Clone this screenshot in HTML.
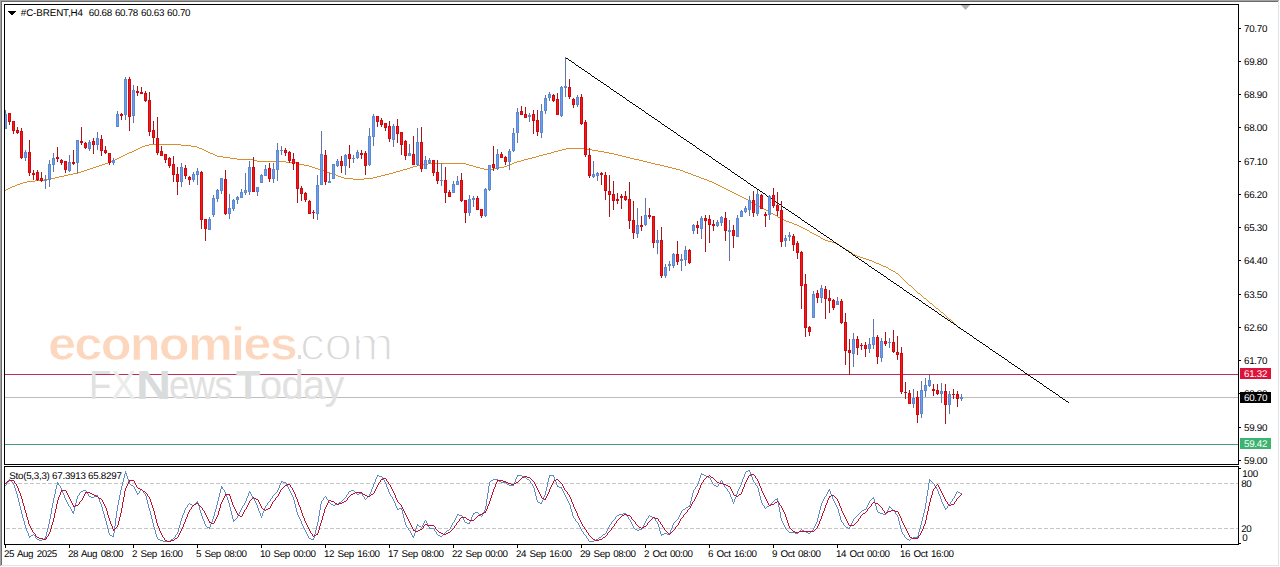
<!DOCTYPE html><html><head><meta charset="utf-8"><title>chart</title><style>html,body{margin:0;padding:0;background:#fff}
body{width:1280px;height:567px;position:relative;overflow:hidden;font-family:"Liberation Sans",sans-serif}
.t{position:absolute;white-space:nowrap;font-size:9.8px;line-height:10px;color:#000;letter-spacing:-0.27px;text-rendering:geometricPrecision}
.bx{position:absolute;left:1240px;width:31px;height:11px}
.p{left:1244px}
.w{color:#fff}
.wm1{position:absolute;left:48.3px;top:313.9px;font-size:46px;line-height:60px;font-weight:bold;color:#fcd6bd;letter-spacing:-1.65px;white-space:nowrap;-webkit-text-stroke:0.7px #fff;transform:scaleX(1.1);transform-origin:0 0}
.wm1b{position:absolute;left:300.4px;top:313.9px;font-size:46px;line-height:60px;font-weight:normal;color:#d9d9d9;letter-spacing:-0.2px;white-space:nowrap;-webkit-text-stroke:1.6px #fff;transform:scaleX(1.08);transform-origin:0 0}
.wm2{position:absolute;top:360px;font-size:40.5px;line-height:50px;color:#dedede;white-space:nowrap;letter-spacing:-0.55px}
.wm2 b{font-weight:bold}
</style></head><body><svg width="1280" height="567" viewBox="0 0 1280 567" style="position:absolute;left:0;top:0"><g shape-rendering="crispEdges"><rect x="0" y="0" width="1280" height="567" fill="#fff"/><rect x="0" y="0" width="1279" height="1" fill="#a3a3a3"/><rect x="0" y="0" width="1" height="566" fill="#a3a3a3"/><rect x="1" y="1" width="1277" height="1" fill="#6b6b6b"/><rect x="1" y="1" width="1" height="564" fill="#6b6b6b"/><rect x="1278" y="1" width="1" height="565" fill="#e3e3e3"/><rect x="1" y="565" width="1278" height="1" fill="#e3e3e3"/><rect x="5" y="374" width="1233" height="1" fill="#bd2c55"/><rect x="5" y="397" width="1233" height="1" fill="#bdbdbd"/><rect x="5" y="444" width="1233" height="1" fill="#449c7a"/></g><path shape-rendering="crispEdges" fill="#d98e30" d="M138 148h2v1h-2zM199 148h3v1h-3zM566 148h21v1h-21zM863 258h3v1h-3zM50 178h5v1h-5zM344 178h9v1h-9zM364 178h9v1h-9zM701 178h3v1h-3zM99 165h3v1h-3zM304 165h5v1h-5zM417 165h5v1h-5zM469 165h4v1h-4zM507 165h2v1h-2zM660 165h4v1h-4zM136 149h2v1h-2zM202 149h2v1h-2zM562 149h4v1h-4zM587 149h5v1h-5zM132 151h2v1h-2zM206 151h2v1h-2zM554 151h4v1h-4zM598 151h6v1h-6zM129 152h3v1h-3zM208 152h2v1h-2zM551 152h3v1h-3zM604 152h5v1h-5zM847 250h2v1h-2zM896 273h2v1h-2zM732 192h2v1h-2zM8 188h2v1h-2zM724 188h2v1h-2zM825 240h3v1h-3zM855 255h2v1h-2zM44 179h6v1h-6zM353 179h11v1h-11zM704 179h3v1h-3zM918 293h2v1h-2zM96 166h3v1h-3zM309 166h3v1h-3zM413 166h4v1h-4zM473 166h3v1h-3zM504 166h3v1h-3zM664 166h4v1h-4zM127 153h2v1h-2zM210 153h3v1h-3zM547 153h4v1h-4zM609 153h5v1h-5zM64 175h4v1h-4zM336 175h2v1h-2zM381 175h4v1h-4zM693 175h3v1h-3zM105 163h3v1h-3zM296 163h3v1h-3zM428 163h38v1h-38zM512 163h2v1h-2zM651 163h4v1h-4zM59 176h5v1h-5zM338 176h3v1h-3zM377 176h4v1h-4zM696 176h3v1h-3zM12 186h3v1h-3zM720 186h2v1h-2zM140 147h2v1h-2zM197 147h2v1h-2zM149 144h32v1h-32zM78 172h3v1h-3zM327 172h3v1h-3zM393 172h3v1h-3zM685 172h3v1h-3zM108 162h2v1h-2zM286 162h10v1h-10zM514 162h3v1h-3zM647 162h4v1h-4zM81 171h3v1h-3zM324 171h3v1h-3zM396 171h4v1h-4zM683 171h2v1h-2zM850 252h2v1h-2zM93 167h3v1h-3zM312 167h3v1h-3zM410 167h3v1h-3zM476 167h4v1h-4zM499 167h5v1h-5zM668 167h4v1h-4zM125 154h2v1h-2zM213 154h2v1h-2zM543 154h4v1h-4zM614 154h4v1h-4zM119 157h2v1h-2zM223 157h7v1h-7zM532 157h4v1h-4zM626 157h4v1h-4zM35 180h9v1h-9zM707 180h2v1h-2zM102 164h3v1h-3zM299 164h5v1h-5zM422 164h6v1h-6zM466 164h3v1h-3zM509 164h3v1h-3zM655 164h5v1h-5zM5 190h1v1h-1zM728 190h2v1h-2zM145 145h4v1h-4zM181 145h10v1h-10zM23 182h4v1h-4zM712 182h2v1h-2zM742 197h2v1h-2zM874 262h2v1h-2zM117 158h2v1h-2zM230 158h7v1h-7zM528 158h4v1h-4zM630 158h4v1h-4zM940 311h1v1h-1zM84 170h3v1h-3zM321 170h3v1h-3zM400 170h3v1h-3zM680 170h3v1h-3zM115 159h2v1h-2zM237 159h17v1h-17zM524 159h4v1h-4zM634 159h5v1h-5zM891 270h2v1h-2zM952 321h1v1h-1zM112 160h3v1h-3zM254 160h3v1h-3zM521 160h3v1h-3zM639 160h4v1h-4zM17 184h3v1h-3zM716 184h2v1h-2zM746 199h2v1h-2zM738 195h2v1h-2zM828 241h4v1h-4zM730 191h2v1h-2zM869 260h3v1h-3zM87 169h3v1h-3zM318 169h3v1h-3zM403 169h4v1h-4zM484 169h9v1h-9zM676 169h4v1h-4zM134 150h2v1h-2zM204 150h2v1h-2zM558 150h4v1h-4zM592 150h6v1h-6zM27 181h8v1h-8zM709 181h3v1h-3zM782 219h2v1h-2zM68 174h5v1h-5zM333 174h3v1h-3zM385 174h4v1h-4zM691 174h2v1h-2zM832 242h3v1h-3zM110 161h2v1h-2zM257 161h29v1h-29zM517 161h4v1h-4zM643 161h4v1h-4zM73 173h5v1h-5zM330 173h3v1h-3zM389 173h4v1h-4zM688 173h3v1h-3zM784 220h2v1h-2zM888 268h1v1h-1zM90 168h3v1h-3zM315 168h3v1h-3zM407 168h3v1h-3zM480 168h4v1h-4zM493 168h6v1h-6zM672 168h4v1h-4zM959 328h2v1h-2zM816 235h2v1h-2zM734 193h2v1h-2zM809 231h1v1h-1zM6 189h2v1h-2zM726 189h2v1h-2zM889 269h2v1h-2zM55 177h4v1h-4zM341 177h3v1h-3zM373 177h4v1h-4zM699 177h2v1h-2zM881 265h2v1h-2zM786 221h3v1h-3zM872 261h2v1h-2zM778 217h2v1h-2zM810 232h2v1h-2zM951 320h1v1h-1zM914 289h1v1h-1zM142 146h3v1h-3zM191 146h6v1h-6zM842 247h2v1h-2zM780 218h2v1h-2zM883 266h3v1h-3zM903 279h1v1h-1zM812 233h2v1h-2zM844 248h1v1h-1zM805 229h2v1h-2zM10 187h2v1h-2zM722 187h2v1h-2zM876 263h3v1h-3zM775 215h2v1h-2zM835 243h3v1h-3zM958 327h1v1h-1zM839 245h2v1h-2zM123 155h2v1h-2zM215 155h2v1h-2zM539 155h4v1h-4zM618 155h4v1h-4zM936 308h2v1h-2zM947 317h1v1h-1zM794 224h3v1h-3zM20 183h3v1h-3zM714 183h2v1h-2zM924 298h2v1h-2zM15 185h2v1h-2zM718 185h2v1h-2zM902 278h1v1h-1zM764 209h2v1h-2zM909 285h2v1h-2zM766 210h2v1h-2zM857 256h3v1h-3zM797 225h2v1h-2zM921 295h1v1h-1zM768 211h2v1h-2zM853 254h2v1h-2zM762 208h2v1h-2zM121 156h2v1h-2zM217 156h6v1h-6zM536 156h3v1h-3zM622 156h4v1h-4zM920 294h1v1h-1zM954 323h1v1h-1zM749 201h2v1h-2zM932 304h1v1h-1zM736 194h2v1h-2zM744 198h2v1h-2zM860 257h3v1h-3zM953 322h1v1h-1zM916 291h1v1h-1zM740 196h2v1h-2zM845 249h2v1h-2zM755 204h2v1h-2zM748 200h1v1h-1zM930 303h2v1h-2zM941 312h2v1h-2zM849 251h1v1h-1zM751 202h2v1h-2zM866 259h3v1h-3zM898 274h1v1h-1zM949 319h2v1h-2zM893 271h2v1h-2zM904 280h1v1h-1zM814 234h2v1h-2zM821 238h2v1h-2zM905 281h1v1h-1zM823 239h2v1h-2zM886 267h2v1h-2zM807 230h2v1h-2zM818 236h2v1h-2zM879 264h2v1h-2zM841 246h1v1h-1zM915 290h1v1h-1zM926 299h1v1h-1zM803 228h2v1h-2zM927 300h1v1h-1zM938 309h1v1h-1zM799 226h2v1h-2zM789 222h3v1h-3zM792 223h2v1h-2zM948 318h1v1h-1zM777 216h1v1h-1zM801 227h2v1h-2zM771 213h2v1h-2zM773 214h2v1h-2zM757 205h2v1h-2zM922 296h1v1h-1zM933 305h1v1h-1zM761 207h1v1h-1zM753 203h2v1h-2zM899 275h1v1h-1zM911 286h1v1h-1zM900 276h1v1h-1zM955 324h1v1h-1zM907 283h1v1h-1zM759 206h2v1h-2zM944 314h1v1h-1zM917 292h1v1h-1zM928 301h1v1h-1zM929 302h1v1h-1zM943 313h1v1h-1zM895 272h1v1h-1zM820 237h1v1h-1zM906 282h1v1h-1zM961 329h1v1h-1zM939 310h1v1h-1zM957 326h1v1h-1zM838 244h1v1h-1zM923 297h1v1h-1zM912 287h1v1h-1zM770 212h1v1h-1zM935 307h1v1h-1zM913 288h1v1h-1zM956 325h1v1h-1zM934 306h1v1h-1zM945 315h1v1h-1zM946 316h1v1h-1zM901 277h1v1h-1zM908 284h1v1h-1zM852 253h1v1h-1z"/><path shape-rendering="crispEdges" fill="#000" d="M565 57h1v1h-1zM566 58h2v1h-2zM568 59h1v1h-1zM569 60h2v1h-2zM571 61h1v1h-1zM572 62h2v1h-2zM574 63h1v1h-1zM575 64h1v1h-1zM576 65h2v1h-2zM578 66h1v1h-1zM579 67h2v1h-2zM581 68h1v1h-1zM582 69h2v1h-2zM584 70h1v1h-1zM585 71h2v1h-2zM587 72h1v1h-1zM588 73h2v1h-2zM590 74h1v1h-1zM591 75h1v1h-1zM592 76h2v1h-2zM594 77h1v1h-1zM595 78h2v1h-2zM597 79h1v1h-1zM598 80h2v1h-2zM600 81h1v1h-1zM601 82h2v1h-2zM603 83h1v1h-1zM604 84h2v1h-2zM606 85h1v1h-1zM607 86h2v1h-2zM609 87h1v1h-1zM610 88h1v1h-1zM611 89h2v1h-2zM613 90h1v1h-1zM614 91h2v1h-2zM616 92h1v1h-1zM617 93h2v1h-2zM619 94h1v1h-1zM620 95h2v1h-2zM622 96h1v1h-1zM623 97h2v1h-2zM625 98h1v1h-1zM626 99h1v1h-1zM627 100h2v1h-2zM629 101h1v1h-1zM630 102h2v1h-2zM632 103h1v1h-1zM633 104h2v1h-2zM635 105h1v1h-1zM636 106h2v1h-2zM638 107h1v1h-1zM639 108h2v1h-2zM641 109h1v1h-1zM642 110h2v1h-2zM644 111h1v1h-1zM645 112h1v1h-1zM646 113h2v1h-2zM648 114h1v1h-1zM649 115h2v1h-2zM651 116h1v1h-1zM652 117h2v1h-2zM654 118h1v1h-1zM655 119h2v1h-2zM657 120h1v1h-1zM658 121h2v1h-2zM660 122h1v1h-1zM661 123h1v1h-1zM662 124h2v1h-2zM664 125h1v1h-1zM665 126h2v1h-2zM667 127h1v1h-1zM668 128h2v1h-2zM670 129h1v1h-1zM671 130h2v1h-2zM673 131h1v1h-1zM674 132h2v1h-2zM676 133h1v1h-1zM677 134h1v1h-1zM678 135h2v1h-2zM680 136h1v1h-1zM681 137h2v1h-2zM683 138h1v1h-1zM684 139h2v1h-2zM686 140h1v1h-1zM687 141h2v1h-2zM689 142h1v1h-1zM690 143h2v1h-2zM692 144h1v1h-1zM693 145h2v1h-2zM695 146h1v1h-1zM696 147h1v1h-1zM697 148h2v1h-2zM699 149h1v1h-1zM700 150h2v1h-2zM702 151h1v1h-1zM703 152h2v1h-2zM705 153h1v1h-1zM706 154h2v1h-2zM708 155h1v1h-1zM709 156h2v1h-2zM711 157h1v1h-1zM712 158h1v1h-1zM713 159h2v1h-2zM715 160h1v1h-1zM716 161h2v1h-2zM718 162h1v1h-1zM719 163h2v1h-2zM721 164h1v1h-1zM722 165h2v1h-2zM724 166h1v1h-1zM725 167h2v1h-2zM727 168h1v1h-1zM728 169h2v1h-2zM730 170h1v1h-1zM731 171h1v1h-1zM732 172h2v1h-2zM734 173h1v1h-1zM735 174h2v1h-2zM737 175h1v1h-1zM738 176h2v1h-2zM740 177h1v1h-1zM741 178h2v1h-2zM743 179h1v1h-1zM744 180h2v1h-2zM746 181h1v1h-1zM747 182h1v1h-1zM748 183h2v1h-2zM750 184h1v1h-1zM751 185h2v1h-2zM753 186h1v1h-1zM754 187h2v1h-2zM756 188h1v1h-1zM757 189h2v1h-2zM759 190h1v1h-1zM760 191h2v1h-2zM762 192h1v1h-1zM763 193h2v1h-2zM765 194h1v1h-1zM766 195h1v1h-1zM767 196h2v1h-2zM769 197h1v1h-1zM770 198h2v1h-2zM772 199h1v1h-1zM773 200h2v1h-2zM775 201h1v1h-1zM776 202h2v1h-2zM778 203h1v1h-1zM779 204h2v1h-2zM781 205h1v1h-1zM782 206h1v1h-1zM783 207h2v1h-2zM785 208h1v1h-1zM786 209h2v1h-2zM788 210h1v1h-1zM789 211h2v1h-2zM791 212h1v1h-1zM792 213h2v1h-2zM794 214h1v1h-1zM795 215h2v1h-2zM797 216h1v1h-1zM798 217h2v1h-2zM800 218h1v1h-1zM801 219h1v1h-1zM802 220h2v1h-2zM804 221h1v1h-1zM805 222h2v1h-2zM807 223h1v1h-1zM808 224h2v1h-2zM810 225h1v1h-1zM811 226h2v1h-2zM813 227h1v1h-1zM814 228h2v1h-2zM816 229h1v1h-1zM817 230h1v1h-1zM818 231h2v1h-2zM820 232h1v1h-1zM821 233h2v1h-2zM823 234h1v1h-1zM824 235h2v1h-2zM826 236h1v1h-1zM827 237h2v1h-2zM829 238h1v1h-1zM830 239h2v1h-2zM832 240h1v1h-1zM833 241h1v1h-1zM834 242h2v1h-2zM836 243h1v1h-1zM837 244h2v1h-2zM839 245h1v1h-1zM840 246h2v1h-2zM842 247h1v1h-1zM843 248h2v1h-2zM845 249h1v1h-1zM846 250h2v1h-2zM848 251h1v1h-1zM849 252h2v1h-2zM851 253h1v1h-1zM852 254h1v1h-1zM853 255h2v1h-2zM855 256h1v1h-1zM856 257h2v1h-2zM858 258h1v1h-1zM859 259h2v1h-2zM861 260h1v1h-1zM862 261h2v1h-2zM864 262h1v1h-1zM865 263h2v1h-2zM867 264h1v1h-1zM868 265h1v1h-1zM869 266h2v1h-2zM871 267h1v1h-1zM872 268h2v1h-2zM874 269h1v1h-1zM875 270h2v1h-2zM877 271h1v1h-1zM878 272h2v1h-2zM880 273h1v1h-1zM881 274h2v1h-2zM883 275h1v1h-1zM884 276h2v1h-2zM886 277h1v1h-1zM887 278h1v1h-1zM888 279h2v1h-2zM890 280h1v1h-1zM891 281h2v1h-2zM893 282h1v1h-1zM894 283h2v1h-2zM896 284h1v1h-1zM897 285h2v1h-2zM899 286h1v1h-1zM900 287h2v1h-2zM902 288h1v1h-1zM903 289h1v1h-1zM904 290h2v1h-2zM906 291h1v1h-1zM907 292h2v1h-2zM909 293h1v1h-1zM910 294h2v1h-2zM912 295h1v1h-1zM913 296h2v1h-2zM915 297h1v1h-1zM916 298h2v1h-2zM918 299h1v1h-1zM919 300h2v1h-2zM921 301h1v1h-1zM922 302h1v1h-1zM923 303h2v1h-2zM925 304h1v1h-1zM926 305h2v1h-2zM928 306h1v1h-1zM929 307h2v1h-2zM931 308h1v1h-1zM932 309h2v1h-2zM934 310h1v1h-1zM935 311h2v1h-2zM937 312h1v1h-1zM938 313h1v1h-1zM939 314h2v1h-2zM941 315h1v1h-1zM942 316h2v1h-2zM944 317h1v1h-1zM945 318h2v1h-2zM947 319h1v1h-1zM948 320h2v1h-2zM950 321h1v1h-1zM951 322h2v1h-2zM953 323h1v1h-1zM954 324h2v1h-2zM956 325h1v1h-1zM957 326h1v1h-1zM958 327h2v1h-2zM960 328h1v1h-1zM961 329h2v1h-2zM963 330h1v1h-1zM964 331h2v1h-2zM966 332h1v1h-1zM967 333h2v1h-2zM969 334h1v1h-1zM970 335h2v1h-2zM972 336h1v1h-1zM973 337h1v1h-1zM974 338h2v1h-2zM976 339h1v1h-1zM977 340h2v1h-2zM979 341h1v1h-1zM980 342h2v1h-2zM982 343h1v1h-1zM983 344h2v1h-2zM985 345h1v1h-1zM986 346h2v1h-2zM988 347h1v1h-1zM989 348h1v1h-1zM990 349h2v1h-2zM992 350h1v1h-1zM993 351h2v1h-2zM995 352h1v1h-1zM996 353h2v1h-2zM998 354h1v1h-1zM999 355h2v1h-2zM1001 356h1v1h-1zM1002 357h2v1h-2zM1004 358h1v1h-1zM1005 359h2v1h-2zM1007 360h1v1h-1zM1008 361h1v1h-1zM1009 362h2v1h-2zM1011 363h1v1h-1zM1012 364h2v1h-2zM1014 365h1v1h-1zM1015 366h2v1h-2zM1017 367h1v1h-1zM1018 368h2v1h-2zM1020 369h1v1h-1zM1021 370h2v1h-2zM1023 371h1v1h-1zM1024 372h1v1h-1zM1025 373h2v1h-2zM1027 374h1v1h-1zM1028 375h2v1h-2zM1030 376h1v1h-1zM1031 377h2v1h-2zM1033 378h1v1h-1zM1034 379h2v1h-2zM1036 380h1v1h-1zM1037 381h2v1h-2zM1039 382h1v1h-1zM1040 383h2v1h-2zM1042 384h1v1h-1zM1043 385h1v1h-1zM1044 386h2v1h-2zM1046 387h1v1h-1zM1047 388h2v1h-2zM1049 389h1v1h-1zM1050 390h2v1h-2zM1052 391h1v1h-1zM1053 392h2v1h-2zM1055 393h1v1h-1zM1056 394h2v1h-2zM1058 395h1v1h-1zM1059 396h1v1h-1zM1060 397h2v1h-2zM1062 398h1v1h-1zM1063 399h2v1h-2zM1065 400h1v1h-1zM1066 401h2v1h-2zM1068 402h1v1h-1z"/><g shape-rendering="crispEdges"><path d="M5 110h1V129h-1zM25 150h1V161h-1zM45 175h1V189h-1zM49 160h1V187h-1zM53 153h1V172h-1zM69 155h1V172h-1zM77 140h1V173h-1zM89 140h1V151h-1zM97 132h1V150h-1zM113 158h1V165h-1zM117 111h1V127h-1zM125 77h1V120h-1zM133 85h1V123h-1zM181 163h1V187h-1zM193 172h1V182h-1zM197 168h1V185h-1zM209 217h1V230h-1zM213 195h1V217h-1zM217 189h1V202h-1zM221 178h1V194h-1zM229 194h1V219h-1zM233 199h1V211h-1zM237 196h1V204h-1zM241 189h1V198h-1zM245 173h1V195h-1zM249 161h1V195h-1zM257 187h1V196h-1zM261 174h1V183h-1zM265 165h1V176h-1zM273 163h1V183h-1zM277 143h1V181h-1zM281 146h1V155h-1zM317 175h1V220h-1zM321 131h1V185h-1zM329 173h1V183h-1zM333 164h1V179h-1zM337 159h1V167h-1zM345 154h1V175h-1zM353 155h1V163h-1zM357 150h1V159h-1zM369 128h1V166h-1zM373 114h1V146h-1zM393 124h1V147h-1zM409 144h1V156h-1zM417 128h1V166h-1zM425 156h1V169h-1zM429 158h1V164h-1zM441 163h1V186h-1zM453 181h1V193h-1zM457 176h1V185h-1zM469 195h1V216h-1zM473 196h1V207h-1zM485 188h1V217h-1zM489 165h1V191h-1zM497 149h1V170h-1zM509 149h1V170h-1zM513 128h1V152h-1zM517 108h1V143h-1zM529 113h1V122h-1zM541 104h1V138h-1zM545 95h1V114h-1zM549 92h1V101h-1zM561 86h1V117h-1zM565 57h1V97h-1zM577 95h1V107h-1zM593 161h1V178h-1zM597 172h1V181h-1zM637 208h1V238h-1zM645 198h1V226h-1zM657 230h1V254h-1zM665 264h1V278h-1zM669 261h1V271h-1zM673 253h1V268h-1zM681 254h1V271h-1zM685 246h1V266h-1zM693 224h1V234h-1zM701 216h1V239h-1zM717 220h1V227h-1zM721 216h1V226h-1zM729 220h1V261h-1zM737 215h1V237h-1zM741 210h1V217h-1zM745 206h1V213h-1zM749 196h1V216h-1zM757 190h1V216h-1zM769 195h1V220h-1zM785 235h1V247h-1zM789 232h1V241h-1zM813 291h1V318h-1zM821 285h1V303h-1zM837 297h1V305h-1zM853 333h1V367h-1zM869 338h1V353h-1zM873 319h1V349h-1zM881 338h1V362h-1zM889 338h1V348h-1zM913 389h1V408h-1zM921 381h1V418h-1zM925 378h1V397h-1zM929 375h1V387h-1zM941 383h1V403h-1zM949 391h1V414h-1zM961 394h1V401h-1z" fill="#6074a8"/><path d="M9 113h1V125h-1zM13 121h1V134h-1zM17 127h1V134h-1zM21 128h1V159h-1zM29 140h1V176h-1zM33 170h1V180h-1zM37 170h1V181h-1zM41 172h1V182h-1zM57 147h1V162h-1zM61 159h1V165h-1zM65 161h1V173h-1zM73 150h1V165h-1zM81 127h1V145h-1zM85 142h1V149h-1zM93 138h1V154h-1zM101 135h1V156h-1zM105 146h1V154h-1zM109 153h1V165h-1zM121 113h1V120h-1zM129 77h1V131h-1zM137 86h1V96h-1zM141 87h1V94h-1zM145 91h1V102h-1zM149 92h1V136h-1zM153 121h1V144h-1zM157 117h1V155h-1zM161 146h1V156h-1zM165 154h1V163h-1zM169 157h1V168h-1zM173 156h1V182h-1zM177 167h1V195h-1zM185 165h1V179h-1zM189 176h1V185h-1zM201 171h1V229h-1zM205 219h1V241h-1zM225 170h1V215h-1zM253 157h1V192h-1zM269 163h1V182h-1zM285 148h1V156h-1zM289 151h1V163h-1zM293 153h1V170h-1zM297 162h1V203h-1zM301 186h1V201h-1zM305 192h1V202h-1zM309 200h1V214h-1zM313 210h1V219h-1zM325 150h1V185h-1zM341 156h1V173h-1zM349 145h1V168h-1zM361 150h1V159h-1zM365 151h1V175h-1zM377 116h1V127h-1zM381 118h1V127h-1zM385 123h1V131h-1zM389 121h1V142h-1zM397 119h1V143h-1zM401 132h1V155h-1zM405 140h1V160h-1zM413 136h1V165h-1zM421 127h1V172h-1zM433 160h1V176h-1zM437 160h1V184h-1zM445 167h1V203h-1zM449 190h1V197h-1zM461 173h1V202h-1zM465 200h1V223h-1zM477 196h1V210h-1zM481 209h1V218h-1zM493 146h1V171h-1zM501 152h1V158h-1zM505 156h1V165h-1zM521 106h1V115h-1zM525 107h1V118h-1zM533 110h1V134h-1zM537 110h1V136h-1zM553 94h1V102h-1zM557 93h1V115h-1zM569 79h1V99h-1zM573 98h1V108h-1zM581 94h1V125h-1zM585 120h1V157h-1zM589 148h1V178h-1zM601 172h1V185h-1zM605 172h1V200h-1zM609 175h1V217h-1zM613 181h1V210h-1zM617 193h1V204h-1zM621 194h1V209h-1zM625 191h1V201h-1zM629 182h1V229h-1zM633 201h1V239h-1zM641 216h1V231h-1zM649 208h1V219h-1zM653 216h1V248h-1zM661 227h1V278h-1zM677 241h1V265h-1zM689 249h1V264h-1zM697 221h1V234h-1zM705 215h1V252h-1zM709 215h1V243h-1zM713 220h1V231h-1zM725 212h1V241h-1zM733 225h1V248h-1zM753 191h1V217h-1zM761 194h1V209h-1zM765 212h1V227h-1zM773 188h1V208h-1zM777 192h1V216h-1zM781 201h1V247h-1zM793 234h1V251h-1zM797 241h1V259h-1zM801 251h1V309h-1zM805 274h1V337h-1zM809 326h1V336h-1zM817 290h1V303h-1zM825 286h1V319h-1zM829 290h1V313h-1zM833 299h1V310h-1zM841 299h1V324h-1zM845 313h1V365h-1zM849 339h1V375h-1zM857 336h1V355h-1zM861 343h1V350h-1zM865 342h1V357h-1zM877 335h1V364h-1zM885 332h1V346h-1zM893 330h1V353h-1zM897 336h1V360h-1zM901 347h1V394h-1zM905 382h1V399h-1zM909 390h1V404h-1zM917 391h1V423h-1zM933 384h1V396h-1zM937 384h1V395h-1zM945 384h1V424h-1zM953 389h1V399h-1zM957 391h1V407h-1z" fill="#a8151b"/><path d="M5 114h2V129h-2zM24 152h3V158h-3zM44 180h3V181h-3zM48 164h3V180h-3zM52 158h3V165h-3zM68 162h3V171h-3zM76 140h3V163h-3zM88 142h3V149h-3zM96 138h3V145h-3zM112 160h3V163h-3zM116 114h3V127h-3zM124 79h3V115h-3zM132 90h3V116h-3zM180 167h3V182h-3zM192 174h3V180h-3zM196 171h3V175h-3zM208 219h3V230h-3zM212 198h3V215h-3zM216 190h3V199h-3zM220 178h3V191h-3zM228 208h3V214h-3zM232 200h3V209h-3zM236 197h3V200h-3zM240 192h3V198h-3zM244 190h3V193h-3zM248 167h3V192h-3zM256 187h3V192h-3zM260 175h3V183h-3zM264 169h3V176h-3zM272 169h3V179h-3zM276 150h3V170h-3zM280 150h3V151h-3zM316 185h3V214h-3zM320 154h3V185h-3zM328 181h3V183h-3zM332 164h3V179h-3zM336 161h3V166h-3zM344 155h3V166h-3zM352 158h3V159h-3zM356 152h3V158h-3zM368 136h3V165h-3zM372 116h3V137h-3zM392 126h3V140h-3zM408 153h3V156h-3zM416 142h3V165h-3zM424 160h3V169h-3zM428 160h3V163h-3zM440 180h3V181h-3zM452 184h3V193h-3zM456 181h3V185h-3zM468 199h3V213h-3zM472 198h3V200h-3zM484 189h3V216h-3zM488 165h3V190h-3zM496 154h3V169h-3zM508 151h3V162h-3zM512 133h3V151h-3zM516 112h3V133h-3zM528 115h3V117h-3zM540 111h3V133h-3zM544 98h3V111h-3zM548 94h3V98h-3zM560 87h3V116h-3zM564 86h3V88h-3zM576 97h3V105h-3zM592 174h3V177h-3zM596 173h3V176h-3zM636 225h3V234h-3zM644 215h3V225h-3zM656 240h3V243h-3zM664 267h3V276h-3zM668 264h3V266h-3zM672 254h3V266h-3zM680 259h3V261h-3zM684 250h3V260h-3zM692 225h3V231h-3zM700 218h3V229h-3zM716 222h3V226h-3zM720 217h3V223h-3zM728 230h3V232h-3zM736 218h3V237h-3zM740 211h3V217h-3zM744 208h3V212h-3zM748 200h3V210h-3zM756 194h3V214h-3zM768 196h3V215h-3zM784 238h3V241h-3zM788 235h3V237h-3zM812 294h3V318h-3zM820 288h3V298h-3zM836 301h3V305h-3zM852 339h3V354h-3zM868 344h3V349h-3zM872 337h3V345h-3zM880 341h3V358h-3zM888 342h3V343h-3zM912 398h3V404h-3zM920 390h3V414h-3zM924 385h3V391h-3zM928 380h3V386h-3zM940 391h3V394h-3zM948 394h3V405h-3zM960 397h3V399h-3z" fill="#5b89d6"/><path d="M8 113h3V122h-3zM12 121h3V131h-3zM16 130h3V133h-3zM20 131h3V158h-3zM28 152h3V173h-3zM32 173h3V175h-3zM36 172h3V180h-3zM40 178h3V181h-3zM56 157h3V159h-3zM60 160h3V163h-3zM64 161h3V170h-3zM72 162h3V164h-3zM80 141h3V143h-3zM84 143h3V148h-3zM92 141h3V145h-3zM100 139h3V151h-3zM104 150h3V153h-3zM108 153h3V163h-3zM120 114h3V116h-3zM128 79h3V117h-3zM136 91h3V93h-3zM140 92h3V94h-3zM144 93h3V101h-3zM148 100h3V132h-3zM152 130h3V138h-3zM156 138h3V153h-3zM160 151h3V156h-3zM164 154h3V160h-3zM168 158h3V166h-3zM172 164h3V175h-3zM176 174h3V182h-3zM184 168h3V176h-3zM188 177h3V180h-3zM200 172h3V220h-3zM204 219h3V229h-3zM224 179h3V214h-3zM252 167h3V192h-3zM268 168h3V179h-3zM284 150h3V153h-3zM288 152h3V161h-3zM292 159h3V164h-3zM296 162h3V189h-3zM300 188h3V194h-3zM304 193h3V200h-3zM308 201h3V214h-3zM312 212h3V213h-3zM324 155h3V182h-3zM340 161h3V166h-3zM348 154h3V159h-3zM360 153h3V155h-3zM364 153h3V166h-3zM376 116h3V122h-3zM380 120h3V125h-3zM384 123h3V128h-3zM388 126h3V139h-3zM396 126h3V134h-3zM400 132h3V145h-3zM404 141h3V156h-3zM412 154h3V165h-3zM420 142h3V169h-3zM432 160h3V173h-3zM436 172h3V181h-3zM444 180h3V193h-3zM448 192h3V197h-3zM460 180h3V201h-3zM464 200h3V213h-3zM476 198h3V210h-3zM480 209h3V216h-3zM492 164h3V168h-3zM500 154h3V158h-3zM504 157h3V162h-3zM520 111h3V115h-3zM524 114h3V118h-3zM532 114h3V121h-3zM536 120h3V132h-3zM552 95h3V101h-3zM556 99h3V115h-3zM568 87h3V97h-3zM572 99h3V105h-3zM580 97h3V124h-3zM584 122h3V155h-3zM588 155h3V176h-3zM600 173h3V175h-3zM604 175h3V191h-3zM608 191h3V195h-3zM612 194h3V201h-3zM616 199h3V201h-3zM620 196h3V198h-3zM624 196h3V200h-3zM628 199h3V221h-3zM632 220h3V233h-3zM640 225h3V227h-3zM648 215h3V217h-3zM652 216h3V243h-3zM660 240h3V276h-3zM676 254h3V262h-3zM688 250h3V263h-3zM696 225h3V228h-3zM704 218h3V221h-3zM708 219h3V225h-3zM712 224h3V226h-3zM724 218h3V231h-3zM732 230h3V236h-3zM752 200h3V213h-3zM760 195h3V209h-3zM764 214h3V216h-3zM772 195h3V206h-3zM776 205h3V211h-3zM780 210h3V242h-3zM792 236h3V245h-3zM796 243h3V253h-3zM800 252h3V286h-3zM804 284h3V328h-3zM808 327h3V332h-3zM816 293h3V298h-3zM824 289h3V299h-3zM828 298h3V301h-3zM832 300h3V308h-3zM840 301h3V323h-3zM844 322h3V351h-3zM848 350h3V353h-3zM856 339h3V348h-3zM860 345h3V346h-3zM864 345h3V349h-3zM876 337h3V357h-3zM884 341h3V344h-3zM892 342h3V352h-3zM896 352h3V355h-3zM900 353h3V392h-3zM904 392h3V393h-3zM908 393h3V404h-3zM916 397h3V415h-3zM932 389h3V391h-3zM936 390h3V394h-3zM944 391h3V405h-3zM952 394h3V395h-3zM956 394h3V399h-3z" fill="#d2080e"/><path d="M5 115h1V128h-1zM25 153h1V157h-1zM49 165h1V179h-1zM53 159h1V164h-1zM69 163h1V170h-1zM77 141h1V162h-1zM89 143h1V148h-1zM97 139h1V144h-1zM113 161h1V162h-1zM117 115h1V126h-1zM125 80h1V114h-1zM133 91h1V115h-1zM181 168h1V181h-1zM193 175h1V179h-1zM197 172h1V174h-1zM209 220h1V229h-1zM213 199h1V214h-1zM217 191h1V198h-1zM221 179h1V190h-1zM229 209h1V213h-1zM233 201h1V208h-1zM237 198h1V199h-1zM241 193h1V197h-1zM245 191h1V192h-1zM249 168h1V191h-1zM257 188h1V191h-1zM261 176h1V182h-1zM265 170h1V175h-1zM273 170h1V178h-1zM277 151h1V169h-1zM317 186h1V213h-1zM321 155h1V184h-1zM333 165h1V178h-1zM337 162h1V165h-1zM345 156h1V165h-1zM357 153h1V157h-1zM369 137h1V164h-1zM373 117h1V136h-1zM393 127h1V139h-1zM409 154h1V155h-1zM417 143h1V164h-1zM425 161h1V168h-1zM429 161h1V162h-1zM453 185h1V192h-1zM457 182h1V184h-1zM469 200h1V212h-1zM485 190h1V215h-1zM489 166h1V189h-1zM497 155h1V168h-1zM509 152h1V161h-1zM513 134h1V150h-1zM517 113h1V132h-1zM541 112h1V132h-1zM545 99h1V110h-1zM549 95h1V97h-1zM561 88h1V115h-1zM577 98h1V104h-1zM593 175h1V176h-1zM597 174h1V175h-1zM637 226h1V233h-1zM645 216h1V224h-1zM657 241h1V242h-1zM665 268h1V275h-1zM673 255h1V265h-1zM685 251h1V259h-1zM693 226h1V230h-1zM701 219h1V228h-1zM717 223h1V225h-1zM721 218h1V222h-1zM737 219h1V236h-1zM741 212h1V216h-1zM745 209h1V211h-1zM749 201h1V209h-1zM757 195h1V213h-1zM769 197h1V214h-1zM785 239h1V240h-1zM813 295h1V317h-1zM821 289h1V297h-1zM837 302h1V304h-1zM853 340h1V353h-1zM869 345h1V348h-1zM873 338h1V344h-1zM881 342h1V357h-1zM913 399h1V403h-1zM921 391h1V413h-1zM925 386h1V390h-1zM929 381h1V385h-1zM941 392h1V393h-1zM949 395h1V404h-1z" fill="#6e9eec"/><path d="M9 114h1V121h-1zM13 122h1V130h-1zM17 131h1V132h-1zM21 132h1V157h-1zM29 153h1V172h-1zM37 173h1V179h-1zM41 179h1V180h-1zM61 161h1V162h-1zM65 162h1V169h-1zM85 144h1V147h-1zM93 142h1V144h-1zM101 140h1V150h-1zM105 151h1V152h-1zM109 154h1V162h-1zM129 80h1V116h-1zM145 94h1V100h-1zM149 101h1V131h-1zM153 131h1V137h-1zM157 139h1V152h-1zM161 152h1V155h-1zM165 155h1V159h-1zM169 159h1V165h-1zM173 165h1V174h-1zM177 175h1V181h-1zM185 169h1V175h-1zM189 178h1V179h-1zM201 173h1V219h-1zM205 220h1V228h-1zM225 180h1V213h-1zM253 168h1V191h-1zM269 169h1V178h-1zM285 151h1V152h-1zM289 153h1V160h-1zM293 160h1V163h-1zM297 163h1V188h-1zM301 189h1V193h-1zM305 194h1V199h-1zM309 202h1V213h-1zM325 156h1V181h-1zM341 162h1V165h-1zM349 155h1V158h-1zM365 154h1V165h-1zM377 117h1V121h-1zM381 121h1V124h-1zM385 124h1V127h-1zM389 127h1V138h-1zM397 127h1V133h-1zM401 133h1V144h-1zM405 142h1V155h-1zM413 155h1V164h-1zM421 143h1V168h-1zM433 161h1V172h-1zM437 173h1V180h-1zM445 181h1V192h-1zM449 193h1V196h-1zM461 181h1V200h-1zM465 201h1V212h-1zM477 199h1V209h-1zM481 210h1V215h-1zM493 165h1V167h-1zM501 155h1V157h-1zM505 158h1V161h-1zM521 112h1V114h-1zM525 115h1V117h-1zM533 115h1V120h-1zM537 121h1V131h-1zM553 96h1V100h-1zM557 100h1V114h-1zM569 88h1V96h-1zM573 100h1V104h-1zM581 98h1V123h-1zM585 123h1V154h-1zM589 156h1V175h-1zM605 176h1V190h-1zM609 192h1V194h-1zM613 195h1V200h-1zM625 197h1V199h-1zM629 200h1V220h-1zM633 221h1V232h-1zM653 217h1V242h-1zM661 241h1V275h-1zM677 255h1V261h-1zM689 251h1V262h-1zM697 226h1V227h-1zM705 219h1V220h-1zM709 220h1V224h-1zM725 219h1V230h-1zM733 231h1V235h-1zM753 201h1V212h-1zM761 196h1V208h-1zM773 196h1V205h-1zM777 206h1V210h-1zM781 211h1V241h-1zM793 237h1V244h-1zM797 244h1V252h-1zM801 253h1V285h-1zM805 285h1V327h-1zM809 328h1V331h-1zM817 294h1V297h-1zM825 290h1V298h-1zM829 299h1V300h-1zM833 301h1V307h-1zM841 302h1V322h-1zM845 323h1V350h-1zM849 351h1V352h-1zM857 340h1V347h-1zM865 346h1V348h-1zM877 338h1V356h-1zM885 342h1V343h-1zM893 343h1V351h-1zM897 353h1V354h-1zM901 354h1V391h-1zM909 394h1V403h-1zM917 398h1V414h-1zM937 391h1V393h-1zM945 392h1V404h-1zM957 395h1V398h-1z" fill="#f41a1a"/></g><path d="M961 5h9l-4.5 5z" fill="#b0b0b0"/><g shape-rendering="crispEdges"><g stroke="#c6c6c6" stroke-width="1" stroke-dasharray="4 2" stroke-dashoffset="5"><line x1="5" y1="483.5" x2="1238" y2="483.5"/><line x1="5" y1="528.5" x2="1238" y2="528.5"/></g></g><path shape-rendering="crispEdges" fill="#5f8cc4" d="M119 495h1v5h-1zM279 485h1v3h-1zM563 491h1v2h-1zM673 523h1v2h-1zM897 515h1v2h-1zM320 504h1v6h-1zM532 484h1v2h-1zM278 488h1v2h-1zM426 521h1v2h-1zM928 483h1v7h-1zM259 511h1v2h-1zM50 514h1v5h-1zM187 505h1v2h-1zM533 486h1v2h-1zM742 479h1v3h-1zM62 490h1v3h-1zM544 495h1v2h-1zM836 505h1v2h-1zM103 511h1v3h-1zM900 525h1v4h-1zM954 496h1v2h-1zM224 490h1v2h-1zM286 483h1v2h-1zM23 518h1v3h-1zM213 516h1v3h-1zM536 496h1v4h-1zM570 505h1v4h-1zM631 522h1v2h-1zM750 472h1v3h-1zM244 503h1v2h-1zM924 509h1v4h-1zM918 532h1v4h-1zM403 514h1v4h-1zM513 484h1v2h-1zM26 528h1v3h-1zM113 533h1v4h-1zM123 478h1v4h-1zM646 519h1v2h-1zM939 494h1v2h-1zM122 482h1v4h-1zM573 516h1v2h-1zM556 482h1v3h-1zM228 500h1v3h-1zM867 505h1v2h-1zM388 489h1v3h-1zM428 525h1v2h-1zM293 497h1v3h-1zM406 525h1v2h-1zM20 506h1v4h-1zM429 527h1v2h-1zM240 510h1v2h-1zM296 508h1v4h-1zM369 494h1v2h-1zM118 500h1v5h-1zM22 514h1v4h-1zM16 491h1v3h-1zM45 536h1v3h-1zM642 527h1v2h-1zM410 531h1v2h-1zM319 510h1v6h-1zM151 515h1v4h-1zM18 498h1v4h-1zM730 494h1v3h-1zM152 519h1v4h-1zM919 529h1v3h-1zM19 502h1v4h-1zM220 489h1v4h-1zM828 490h1v2h-1zM137 493h1v2h-1zM889 506h1v2h-1zM680 513h1v2h-1zM471 517h1v3h-1zM155 530h1v4h-1zM303 526h1v2h-1zM377 475h1v2h-1zM201 513h1v3h-1zM314 534h1v4h-1zM53 498h1v5h-1zM672 525h1v3h-1zM178 528h1v4h-1zM816 522h1v2h-1zM106 521h1v4h-1zM482 514h1v2h-1zM88 494h1v2h-1zM76 499h1v4h-1zM277 490h1v2h-1zM760 496h1v4h-1zM779 507h1v5h-1zM548 478h1v4h-1zM927 490h1v6h-1zM486 499h1v7h-1zM250 492h1v2h-1zM874 499h1v4h-1zM581 529h1v2h-1zM49 519h1v5h-1zM413 536h1v2h-1zM741 482h1v3h-1zM824 497h1v2h-1zM877 510h1v2h-1zM48 524h1v4h-1zM417 524h1v2h-1zM691 497h1v4h-1zM456 516h1v2h-1zM923 513h1v4h-1zM323 498h1v2h-1zM147 500h1v4h-1zM221 486h1v3h-1zM922 517h1v4h-1zM108 529h1v4h-1zM211 522h1v2h-1zM246 498h1v3h-1zM57 482h1v3h-1zM121 486h1v4h-1zM215 509h1v3h-1zM181 518h1v3h-1zM258 508h1v3h-1zM832 496h1v3h-1zM61 488h1v2h-1zM699 478h1v3h-1zM722 481h1v2h-1zM869 501h1v2h-1zM543 497h1v3h-1zM102 507h1v4h-1zM535 492h1v4h-1zM626 514h1v2h-1zM899 521h1v4h-1zM436 532h1v2h-1zM942 502h1v2h-1zM52 503h1v5h-1zM242 506h1v2h-1zM105 518h1v3h-1zM547 482h1v5h-1zM126 473h1v3h-1zM839 513h1v3h-1zM630 520h1v2h-1zM25 525h1v3h-1zM265 506h1v2h-1zM926 496h1v7h-1zM231 511h1v4h-1zM318 516h1v6h-1zM98 497h1v2h-1zM212 519h1v3h-1zM695 487h1v2h-1zM895 512h1v2h-1zM778 501h1v6h-1zM938 491h1v3h-1zM47 528h1v4h-1zM376 477h1v2h-1zM227 497h1v3h-1zM63 493h1v2h-1zM405 522h1v3h-1zM216 505h1v4h-1zM917 536h1v2h-1zM888 508h1v2h-1zM606 531h1v2h-1zM679 515h1v2h-1zM835 503h1v2h-1zM260 513h1v3h-1zM645 521h1v2h-1zM29 536h1v2h-1zM75 503h1v4h-1zM921 521h1v4h-1zM295 504h1v4h-1zM177 532h1v2h-1zM819 510h1v4h-1zM815 524h1v2h-1zM485 506h1v4h-1zM473 513h1v2h-1zM120 490h1v5h-1zM117 505h1v6h-1zM736 494h1v3h-1zM517 475h1v2h-1zM945 508h1v2h-1zM632 524h1v2h-1zM718 484h1v2h-1zM153 523h1v4h-1zM455 518h1v2h-1zM569 503h1v2h-1zM729 492h1v2h-1zM749 470h1v2h-1zM416 526h1v3h-1zM572 512h1v4h-1zM299 517h1v2h-1zM154 527h1v3h-1zM554 477h1v3h-1zM386 484h1v3h-1zM575 519h1v2h-1zM21 510h1v4h-1zM555 480h1v2h-1zM313 538h1v2h-1zM387 487h1v2h-1zM427 523h1v2h-1zM219 493h1v4h-1zM210 524h1v3h-1zM180 521h1v4h-1zM408 528h1v2h-1zM873 497h1v2h-1zM470 520h1v2h-1zM56 485h1v4h-1zM157 537h1v2h-1zM462 516h1v2h-1zM451 525h1v2h-1zM698 481h1v3h-1zM671 528h1v2h-1zM751 475h1v2h-1zM876 506h1v4h-1zM542 500h1v2h-1zM397 508h1v2h-1zM762 503h1v2h-1zM272 496h1v2h-1zM752 477h1v3h-1zM185 508h1v2h-1zM135 489h1v2h-1zM241 508h1v2h-1zM116 511h1v7h-1zM690 501h1v4h-1zM136 491h1v2h-1zM785 527h1v2h-1zM831 494h1v2h-1zM200 510h1v3h-1zM150 511h1v4h-1zM17 494h1v4h-1zM245 501h1v2h-1zM925 503h1v6h-1zM579 525h1v2h-1zM759 492h1v4h-1zM814 526h1v2h-1zM214 512h1v4h-1zM6 483h1v2h-1zM124 474h1v4h-1zM658 524h1v3h-1zM104 514h1v4h-1zM583 532h1v2h-1zM115 518h1v8h-1zM868 503h1v2h-1zM199 506h1v4h-1zM838 509h1v4h-1zM659 527h1v4h-1zM537 500h1v2h-1zM902 532h1v2h-1zM51 508h1v6h-1zM139 491h1v2h-1zM549 475h1v3h-1zM546 487h1v4h-1zM609 525h1v2h-1zM934 484h1v2h-1zM107 525h1v4h-1zM937 489h1v2h-1zM833 499h1v2h-1zM35 536h1v2h-1zM404 518h1v4h-1zM264 508h1v3h-1zM841 520h1v2h-1zM434 529h1v2h-1zM489 482h1v4h-1zM229 503h1v4h-1zM175 535h1v2h-1zM375 479h1v3h-1zM257 505h1v3h-1zM127 476h1v3h-1zM944 506h1v2h-1zM230 507h1v4h-1zM840 516h1v4h-1zM887 510h1v2h-1zM534 488h1v4h-1zM678 517h1v2h-1zM472 515h1v2h-1zM568 501h1v2h-1zM920 525h1v4h-1zM818 514h1v4h-1zM901 529h1v3h-1zM586 536h1v2h-1zM904 535h1v2h-1zM55 489h1v5h-1zM739 487h1v2h-1zM24 521h1v4h-1zM184 510h1v3h-1zM382 477h1v2h-1zM226 494h1v3h-1zM385 482h1v2h-1zM693 490h1v3h-1zM415 529h1v4h-1zM943 504h1v2h-1zM156 534h1v3h-1zM727 489h1v2h-1zM852 521h1v2h-1zM134 487h1v2h-1zM316 526h1v4h-1zM217 501h1v4h-1zM362 494h1v2h-1zM300 519h1v2h-1zM488 486h1v7h-1zM697 484h1v2h-1zM701 473h1v2h-1zM929 479h1v4h-1zM301 521h1v3h-1zM712 482h1v2h-1zM249 491h1v2h-1zM783 523h1v2h-1zM541 502h1v2h-1zM553 475h1v2h-1zM73 511h1v3h-1zM608 527h1v2h-1zM263 511h1v2h-1zM114 526h1v7h-1zM149 508h1v3h-1zM464 520h1v2h-1zM578 523h1v2h-1zM947 506h1v2h-1zM205 524h1v2h-1zM308 536h1v2h-1zM395 503h1v3h-1zM374 482h1v2h-1zM780 512h1v6h-1zM764 506h1v2h-1zM720 481h1v2h-1zM875 503h1v3h-1zM198 503h1v3h-1zM813 528h1v2h-1zM886 512h1v2h-1zM396 506h1v2h-1zM761 500h1v3h-1zM54 494h1v4h-1zM734 499h1v3h-1zM738 489h1v2h-1zM252 496h1v2h-1zM821 503h1v3h-1zM487 493h1v6h-1zM515 479h1v3h-1zM830 491h1v3h-1zM661 534h1v2h-1zM100 502h1v2h-1zM46 532h1v4h-1zM657 522h1v2h-1zM315 530h1v4h-1zM936 487h1v2h-1zM225 492h1v2h-1zM843 523h1v2h-1zM58 483h1v2h-1zM77 496h1v3h-1zM183 513h1v2h-1zM866 507h1v2h-1zM270 499h1v2h-1zM262 513h1v3h-1zM239 512h1v2h-1zM346 495h1v2h-1zM566 497h1v2h-1zM692 493h1v4h-1zM567 499h1v2h-1zM65 498h1v2h-1zM588 539h1v2h-1zM402 510h1v4h-1zM851 523h1v2h-1zM68 504h1v2h-1zM384 480h1v2h-1zM611 522h1v2h-1zM289 489h1v2h-1zM753 480h1v2h-1zM700 475h1v3h-1zM514 482h1v2h-1zM607 529h1v2h-1zM710 478h1v2h-1zM392 497h1v2h-1zM71 509h1v2h-1zM281 481h1v2h-1zM364 497h1v2h-1zM373 484h1v3h-1zM251 494h1v2h-1zM292 495h1v2h-1zM782 521h1v2h-1zM660 531h1v3h-1zM733 502h1v2h-1zM148 504h1v4h-1zM737 491h1v3h-1zM820 506h1v4h-1zM15 488h1v3h-1zM306 532h1v2h-1zM204 521h1v3h-1zM394 501h1v2h-1zM648 516h1v2h-1zM371 489h1v3h-1zM745 472h1v2h-1zM254 499h1v2h-1zM850 525h1v2h-1zM247 496h1v2h-1zM101 504h1v3h-1zM125 471h1v3h-1zM644 523h1v2h-1zM562 489h1v2h-1zM8 480h1v2h-1zM565 495h1v2h-1zM238 514h1v2h-1zM326 497h1v2h-1zM128 479h1v3h-1zM261 516h1v2h-1zM516 477h1v2h-1zM64 495h1v3h-1zM288 487h1v2h-1zM454 520h1v2h-1zM129 482h1v2h-1zM372 487h1v2h-1zM633 526h1v2h-1zM28 533h1v3h-1zM469 522h1v2h-1zM941 499h1v3h-1zM450 527h1v2h-1zM670 530h1v3h-1zM390 494h1v2h-1zM401 508h1v2h-1zM67 502h1v2h-1zM70 507h1v2h-1zM412 535h1v2h-1zM781 518h1v3h-1zM79 493h1v2h-1zM280 483h1v2h-1zM291 493h1v2h-1zM321 501h1v3h-1zM740 485h1v2h-1zM755 483h1v2h-1zM545 491h1v4h-1zM732 499h1v3h-1zM956 492h1v2h-1zM305 530h1v2h-1zM744 474h1v3h-1zM294 500h1v4h-1zM302 524h1v2h-1zM348 492h1v2h-1zM557 485h1v2h-1zM267 503h1v2h-1zM86 491h1v2h-1zM317 522h1v4h-1zM14 485h1v3h-1zM393 499h1v2h-1zM203 519h1v2h-1zM237 516h1v2h-1zM853 519h1v2h-1zM146 496h1v4h-1zM952 499h1v2h-1zM143 491h1v2h-1zM370 492h1v2h-1zM530 481h1v2h-1zM758 488h1v4h-1zM97 495h1v2h-1zM849 527h1v2h-1zM202 516h1v3h-1zM561 487h1v2h-1zM643 525h1v2h-1zM834 501h1v2h-1zM457 514h1v2h-1zM218 497h1v4h-1zM179 525h1v3h-1zM724 485h1v2h-1zM681 511h1v2h-1zM777 498h1v3h-1zM628 517h1v2h-1zM74 507h1v4h-1zM232 515h1v4h-1zM484 510h1v2h-1zM233 519h1v3h-1zM940 496h1v3h-1zM743 477h1v2h-1zM689 505h1v2h-1zM564 493h1v2h-1zM898 517h1v4h-1zM837 507h1v2h-1zM287 485h1v2h-1zM571 509h1v3h-1zM248 493h1v3h-1zM731 497h1v2h-1zM389 492h1v2h-1zM955 494h1v2h-1zM422 525h1v2h-1zM297 512h1v3h-1zM411 533h1v2h-1zM817 518h1v4h-1zM483 512h1v2h-1zM757 486h1v2h-1zM13 483h1v2h-1zM304 528h1v2h-1zM452 523h1v2h-1zM414 533h1v3h-1zM145 494h1v2h-1zM99 499h1v3h-1zM182 515h1v3h-1zM615 517h1v2h-1zM723 483h1v2h-1zM209 527h1v2h-1zM950 502h1v2h-1zM711 480h1v2h-1zM72 511h1v2h-1zM580 527h1v2h-1zM109 533h1v2h-1zM463 518h1v2h-1zM197 501h1v2h-1zM424 521h1v2h-1zM60 486h1v2h-1zM298 515h1v2h-1zM827 492h1v2h-1zM423 523h1v2h-1zM823 499h1v2h-1zM784 525h1v2h-1zM655 519h1v2h-1zM222 487h1v2h-1zM256 503h1v2h-1zM826 494h1v2h-1zM735 497h1v2h-1zM66 500h1v2h-1zM669 533h1v2h-1zM822 501h1v2h-1zM27 531h1v2h-1zM328 500h1v2h-1zM290 491h1v2h-1zM307 534h1v2h-1zM255 501h1v2h-1zM829 489h1v2h-1zM399 508h2v1h-2zM685 508h1v1h-1zM765 508h1v1h-1zM891 508h1v1h-1zM946 508h1v1h-1zM133 486h1v1h-1zM558 486h1v1h-1zM696 486h1v1h-1zM716 486h2v1h-2zM935 486h1v1h-1zM861 511h1v1h-1zM894 511h1v1h-1zM10 480h1v1h-1zM491 480h2v1h-2zM498 480h1v1h-1zM529 480h1v1h-1zM721 480h1v1h-1zM930 480h1v1h-1zM5 485h1v1h-1zM59 485h1v1h-1zM131 485h2v1h-2zM509 485h4v1h-4zM714 485h2v1h-2zM756 485h1v1h-1zM91 497h3v1h-3zM324 497h1v1h-1zM345 497h1v1h-1zM367 497h1v1h-1zM188 504h1v1h-1zM190 504h2v1h-2zM194 504h1v1h-1zM331 504h2v1h-2zM335 504h3v1h-3zM770 504h1v1h-1zM949 504h1v1h-1zM467 523h2v1h-2zM89 496h2v1h-2zM94 496h2v1h-2zM325 496h1v1h-1zM363 496h1v1h-1zM368 496h1v1h-1zM391 496h1v1h-1zM825 496h1v1h-1zM7 482h1v1h-1zM12 482h1v1h-1zM283 482h3v1h-3zM501 482h5v1h-5zM754 482h1v1h-1zM932 482h1v1h-1zM269 501h1v1h-1zM341 501h1v1h-1zM773 501h1v1h-1zM951 501h1v1h-1zM474 513h1v1h-1zM478 513h1v1h-1zM623 513h3v1h-3zM859 513h1v1h-1zM880 513h3v1h-3zM189 503h1v1h-1zM195 503h1v1h-1zM330 503h1v1h-1zM338 503h1v1h-1zM540 503h1v1h-1zM771 503h1v1h-1zM37 539h2v1h-2zM42 539h2v1h-2zM158 539h2v1h-2zM171 539h2v1h-2zM311 539h2v1h-2zM596 539h2v1h-2zM907 539h2v1h-2zM910 539h1v1h-1zM327 499h1v1h-1zM343 499h1v1h-1zM365 499h1v1h-1zM775 499h2v1h-2zM871 499h1v1h-1zM163 541h7v1h-7zM589 541h5v1h-5zM444 533h1v1h-1zM605 533h1v1h-1zM664 533h3v1h-3zM795 533h3v1h-3zM808 533h2v1h-2zM430 528h4v1h-4zM634 528h1v1h-1zM848 528h1v1h-1zM524 477h2v1h-2zM708 477h2v1h-2zM481 516h1v1h-1zM616 516h1v1h-1zM627 516h1v1h-1zM650 516h2v1h-2zM856 516h1v1h-1zM81 491h2v1h-2zM349 491h2v1h-2zM354 491h1v1h-1zM728 491h1v1h-1zM957 491h1v1h-1zM11 481h1v1h-1zM282 481h1v1h-1zM490 481h1v1h-1zM499 481h2v1h-2zM931 481h1v1h-1zM435 531h1v1h-1zM446 531h1v1h-1zM582 531h1v1h-1zM788 531h1v1h-1zM799 531h1v1h-1zM804 531h2v1h-2zM811 531h1v1h-1zM459 515h3v1h-3zM480 515h1v1h-1zM617 515h2v1h-2zM649 515h1v1h-1zM857 515h1v1h-1zM236 518h1v1h-1zM574 518h1v1h-1zM647 518h1v1h-1zM654 518h1v1h-1zM854 518h1v1h-1zM39 540h3v1h-3zM160 540h3v1h-3zM170 540h1v1h-1zM594 540h2v1h-2zM909 540h1v1h-1zM409 530h1v1h-1zM447 530h2v1h-2zM637 530h2v1h-2zM787 530h1v1h-1zM800 530h1v1h-1zM802 530h2v1h-2zM812 530h1v1h-1zM30 536h1v1h-1zM112 536h1v1h-1zM440 536h2v1h-2zM601 536h1v1h-1zM253 498h1v1h-1zM271 498h1v1h-1zM344 498h1v1h-1zM366 498h1v1h-1zM872 498h1v1h-1zM953 498h1v1h-1zM274 494h1v1h-1zM347 494h1v1h-1zM357 494h2v1h-2zM378 475h1v1h-1zM518 475h4v1h-4zM550 475h3v1h-3zM704 475h2v1h-2zM475 512h3v1h-3zM860 512h1v1h-1zM878 512h2v1h-2zM458 514h1v1h-1zM479 514h1v1h-1zM619 514h4v1h-4zM858 514h1v1h-1zM883 514h3v1h-3zM896 514h1v1h-1zM192 505h2v1h-2zM243 505h1v1h-1zM266 505h1v1h-1zM333 505h2v1h-2zM763 505h1v1h-1zM769 505h1v1h-1zM948 505h1v1h-1zM186 507h1v1h-1zM686 507h2v1h-2zM766 507h1v1h-1zM890 507h1v1h-1zM449 529h1v1h-1zM635 529h2v1h-2zM639 529h3v1h-3zM786 529h1v1h-1zM801 529h1v1h-1zM322 500h1v1h-1zM342 500h1v1h-1zM774 500h1v1h-1zM870 500h1v1h-1zM36 538h1v1h-1zM44 538h1v1h-1zM173 538h1v1h-1zM309 538h2v1h-2zM587 538h1v1h-1zM598 538h1v1h-1zM906 538h1v1h-1zM911 538h2v1h-2zM379 476h3v1h-3zM522 476h2v1h-2zM706 476h2v1h-2zM207 527h2v1h-2zM407 527h1v1h-1zM421 527h1v1h-1zM846 527h2v1h-2zM87 493h1v1h-1zM138 493h1v1h-1zM144 493h1v1h-1zM275 493h1v1h-1zM356 493h1v1h-1zM359 493h3v1h-3zM960 493h2v1h-2zM445 532h1v1h-1zM789 532h6v1h-6zM798 532h1v1h-1zM806 532h2v1h-2zM810 532h1v1h-1zM174 537h1v1h-1zM599 537h2v1h-2zM905 537h1v1h-1zM913 537h4v1h-4zM234 520h1v1h-1zM425 520h1v1h-1zM613 520h1v1h-1zM676 520h1v1h-1zM33 534h1v1h-1zM176 534h1v1h-1zM437 534h1v1h-1zM443 534h1v1h-1zM584 534h1v1h-1zM603 534h2v1h-2zM662 534h2v1h-2zM667 534h2v1h-2zM903 534h1v1h-1zM9 479h1v1h-1zM383 479h1v1h-1zM493 479h5v1h-5zM527 479h2v1h-2zM83 490h3v1h-3zM140 490h1v1h-1zM142 490h1v1h-1zM351 490h3v1h-3zM398 509h1v1h-1zM683 509h2v1h-2zM864 509h2v1h-2zM892 509h1v1h-1zM235 519h1v1h-1zM614 519h1v1h-1zM629 519h1v1h-1zM677 519h1v1h-1zM31 535h2v1h-2zM34 535h1v1h-1zM110 535h2v1h-2zM438 535h2v1h-2zM442 535h1v1h-1zM585 535h1v1h-1zM602 535h1v1h-1zM610 524h1v1h-1zM652 517h2v1h-2zM855 517h1v1h-1zM196 502h1v1h-1zM268 502h1v1h-1zM329 502h1v1h-1zM339 502h2v1h-2zM538 502h2v1h-2zM772 502h1v1h-1zM559 487h2v1h-2zM725 487h1v1h-1zM726 488h1v1h-1zM576 521h1v1h-1zM612 521h1v1h-1zM656 521h1v1h-1zM675 521h1v1h-1zM748 470h1v1h-1zM141 489h1v1h-1zM223 489h1v1h-1zM694 489h1v1h-1zM78 495h1v1h-1zM96 495h1v1h-1zM273 495h1v1h-1zM130 484h1v1h-1zM507 484h2v1h-2zM713 484h1v1h-1zM453 522h1v1h-1zM465 522h2v1h-2zM577 522h1v1h-1zM674 522h1v1h-1zM842 522h1v1h-1zM506 483h1v1h-1zM531 483h1v1h-1zM719 483h1v1h-1zM933 483h1v1h-1zM682 510h1v1h-1zM862 510h2v1h-2zM893 510h1v1h-1zM526 478h1v1h-1zM206 526h1v1h-1zM419 526h2v1h-2zM845 526h1v1h-1zM80 492h1v1h-1zM276 492h1v1h-1zM355 492h1v1h-1zM958 492h2v1h-2zM746 471h2v1h-2zM69 506h1v1h-1zM688 506h1v1h-1zM767 506h2v1h-2zM418 525h1v1h-1zM844 525h1v1h-1zM702 474h2v1h-2z"/><path shape-rendering="crispEdges" fill="#c0102c" d="M57 500h1v4h-1zM496 482h1v2h-1zM300 507h1v3h-1zM548 492h1v2h-1zM730 487h1v2h-1zM61 490h1v2h-1zM396 498h1v2h-1zM122 502h1v6h-1zM20 493h1v3h-1zM271 504h1v2h-1zM377 485h1v2h-1zM923 526h1v3h-1zM323 513h1v3h-1zM221 502h1v2h-1zM304 518h1v3h-1zM159 528h1v3h-1zM347 498h1v2h-1zM205 513h1v2h-1zM821 516h1v3h-1zM820 519h1v2h-1zM581 522h1v2h-1zM563 486h1v2h-1zM584 527h1v2h-1zM152 505h1v3h-1zM58 497h1v3h-1zM741 492h1v2h-1zM824 508h1v3h-1zM660 522h1v2h-1zM761 488h1v3h-1zM840 506h1v2h-1zM52 522h1v3h-1zM746 480h1v2h-1zM786 517h1v3h-1zM829 496h1v2h-1zM178 535h1v2h-1zM607 533h1v2h-1zM932 491h1v4h-1zM117 525h1v2h-1zM631 517h1v2h-1zM258 500h1v2h-1zM882 508h1v2h-1zM403 509h1v2h-1zM102 500h1v2h-1zM899 514h1v2h-1zM259 502h1v2h-1zM110 521h1v3h-1zM691 504h1v2h-1zM491 495h1v3h-1zM900 516h1v2h-1zM186 517h1v2h-1zM943 495h1v2h-1zM539 492h1v2h-1zM858 519h1v2h-1zM232 502h1v3h-1zM56 504h1v5h-1zM567 492h1v2h-1zM53 518h1v4h-1zM536 486h1v2h-1zM570 497h1v2h-1zM588 533h1v2h-1zM121 508h1v5h-1zM695 497h1v2h-1zM664 528h1v2h-1zM247 505h1v2h-1zM930 498h1v4h-1zM376 487h1v2h-1zM927 511h1v4h-1zM322 516h1v4h-1zM687 510h1v2h-1zM216 517h1v2h-1zM907 531h1v2h-1zM326 505h1v2h-1zM409 521h1v2h-1zM220 504h1v4h-1zM700 485h1v3h-1zM574 507h1v2h-1zM819 521h1v3h-1zM406 515h1v2h-1zM935 486h1v2h-1zM577 513h1v3h-1zM380 480h1v2h-1zM945 499h1v2h-1zM231 499h1v3h-1zM569 495h1v2h-1zM26 513h1v4h-1zM395 495h1v3h-1zM918 536h1v2h-1zM19 491h1v2h-1zM60 492h1v3h-1zM292 488h1v2h-1zM29 524h1v2h-1zM295 494h1v3h-1zM303 516h1v2h-1zM748 476h1v2h-1zM485 511h1v2h-1zM72 503h1v2h-1zM922 529h1v2h-1zM22 499h1v4h-1zM120 513h1v4h-1zM760 486h1v2h-1zM151 502h1v3h-1zM926 515h1v5h-1zM79 502h1v2h-1zM675 527h1v2h-1zM435 527h1v2h-1zM299 505h1v2h-1zM154 511h1v4h-1zM162 535h1v2h-1zM310 531h1v2h-1zM185 519h1v3h-1zM782 508h1v2h-1zM155 515h1v4h-1zM956 499h1v2h-1zM497 480h1v2h-1zM788 523h1v3h-1zM129 480h1v2h-1zM694 499h1v2h-1zM745 482h1v2h-1zM35 534h1v2h-1zM109 518h1v3h-1zM246 507h1v2h-1zM55 509h1v4h-1zM789 526h1v2h-1zM759 483h1v3h-1zM318 530h1v3h-1zM215 519h1v2h-1zM929 502h1v4h-1zM535 484h1v2h-1zM785 514h1v3h-1zM690 506h1v2h-1zM242 514h1v2h-1zM839 503h1v3h-1zM404 511h1v2h-1zM59 495h1v2h-1zM884 511h1v2h-1zM111 524h1v2h-1zM405 513h1v2h-1zM614 524h1v2h-1zM375 489h1v2h-1zM944 497h1v2h-1zM179 533h1v2h-1zM941 491h1v2h-1zM325 507h1v2h-1zM921 531h1v2h-1zM25 510h1v3h-1zM818 524h1v2h-1zM841 508h1v3h-1zM924 524h1v2h-1zM70 499h1v2h-1zM184 522h1v2h-1zM822 513h1v3h-1zM28 520h1v4h-1zM71 501h1v2h-1zM906 529h1v2h-1zM492 492h1v3h-1zM575 509h1v2h-1zM755 476h1v2h-1zM909 535h1v2h-1zM124 491h1v6h-1zM827 500h1v3h-1zM54 513h1v5h-1zM576 511h1v2h-1zM136 485h1v2h-1zM860 516h1v2h-1zM128 482h1v2h-1zM147 494h1v2h-1zM747 478h1v2h-1zM51 525h1v4h-1zM160 531h1v2h-1zM298 502h1v3h-1zM781 506h1v2h-1zM119 517h1v4h-1zM161 533h1v2h-1zM928 506h1v5h-1zM925 520h1v4h-1zM280 490h1v2h-1zM701 483h1v2h-1zM489 501h1v3h-1zM394 493h1v2h-1zM249 501h1v2h-1zM73 505h1v2h-1zM156 519h1v4h-1zM218 511h1v4h-1zM302 513h1v3h-1zM758 481h1v2h-1zM150 499h1v3h-1zM374 491h1v2h-1zM783 510h1v2h-1zM309 529h1v2h-1zM214 521h1v2h-1zM123 497h1v5h-1zM867 509h1v2h-1zM312 534h1v2h-1zM324 509h1v4h-1zM553 481h1v2h-1zM784 512h1v2h-1zM164 538h1v2h-1zM817 526h1v2h-1zM85 492h1v2h-1zM765 497h1v2h-1zM787 520h1v3h-1zM487 506h1v3h-1zM182 527h1v2h-1zM328 501h1v2h-1zM940 489h1v2h-1zM386 479h1v2h-1zM50 529h1v3h-1zM127 484h1v2h-1zM837 499h1v2h-1zM66 491h1v2h-1zM920 533h1v2h-1zM107 511h1v4h-1zM768 503h1v2h-1zM904 525h1v2h-1zM236 511h1v2h-1zM279 492h1v2h-1zM319 526h1v4h-1zM905 527h1v2h-1zM46 537h1v2h-1zM183 524h1v3h-1zM248 503h1v2h-1zM635 522h1v2h-1zM847 521h1v2h-1zM541 496h1v2h-1zM848 523h1v2h-1zM224 496h1v2h-1zM495 484h1v3h-1zM275 498h1v2h-1zM244 510h1v2h-1zM69 497h1v2h-1zM411 525h1v2h-1zM301 510h1v3h-1zM552 483h1v2h-1zM27 517h1v3h-1zM757 479h1v2h-1zM149 497h1v2h-1zM307 525h1v2h-1zM327 503h1v2h-1zM297 499h1v3h-1zM779 503h1v2h-1zM392 489h1v2h-1zM202 508h1v2h-1zM611 528h1v2h-1zM764 495h1v2h-1zM49 532h1v2h-1zM828 498h1v2h-1zM84 494h1v2h-1zM680 519h1v2h-1zM189 510h1v2h-1zM486 509h1v2h-1zM181 529h1v2h-1zM113 529h1v2h-1zM490 498h1v3h-1zM208 519h1v2h-1zM456 523h1v2h-1zM825 505h1v3h-1zM703 480h1v2h-1zM103 502h1v2h-1zM209 521h1v2h-1zM106 508h1v3h-1zM767 501h1v2h-1zM126 486h1v2h-1zM551 485h1v2h-1zM938 485h1v2h-1zM843 513h1v2h-1zM278 494h1v2h-1zM939 487h1v2h-1zM388 482h1v2h-1zM223 498h1v2h-1zM903 523h1v2h-1zM235 509h1v2h-1zM459 519h1v2h-1zM573 504h1v3h-1zM83 496h1v2h-1zM679 521h1v2h-1zM931 495h1v3h-1zM846 519h1v2h-1zM390 485h1v2h-1zM158 526h1v2h-1zM296 497h1v2h-1zM14 481h1v2h-1zM391 487h1v2h-1zM580 520h1v2h-1zM412 527h1v2h-1zM683 515h1v2h-1zM18 488h1v3h-1zM413 529h1v2h-1zM125 488h1v3h-1zM48 534h1v2h-1zM732 491h1v2h-1zM744 484h1v3h-1zM733 493h1v2h-1zM317 533h1v2h-1zM32 530h1v2h-1zM698 490h1v3h-1zM306 523h1v2h-1zM204 511h1v2h-1zM762 491h1v2h-1zM562 484h1v2h-1zM272 502h1v2h-1zM378 483h1v2h-1zM763 493h1v2h-1zM493 489h1v3h-1zM108 515h1v3h-1zM222 500h1v2h-1zM423 526h1v2h-1zM550 487h1v2h-1zM82 498h1v2h-1zM104 504h1v2h-1zM647 523h1v2h-1zM260 504h1v2h-1zM321 520h1v3h-1zM112 526h1v3h-1zM207 517h1v2h-1zM105 506h1v2h-1zM933 489h1v2h-1zM902 521h1v2h-1zM261 506h1v2h-1zM219 508h1v3h-1zM234 507h1v2h-1zM586 530h1v2h-1zM538 490h1v2h-1zM662 525h1v2h-1zM842 511h1v2h-1zM743 487h1v2h-1zM826 503h1v2h-1zM187 514h1v3h-1zM230 496h1v3h-1zM678 523h1v2h-1zM408 519h1v2h-1zM180 531h1v2h-1zM233 505h1v2h-1zM571 499h1v3h-1zM731 489h1v2h-1zM217 515h1v2h-1zM397 500h1v2h-1zM572 502h1v2h-1zM823 511h1v2h-1zM21 496h1v3h-1zM305 521h1v2h-1zM188 512h1v2h-1zM871 504h1v2h-1zM294 492h1v2h-1zM31 528h1v2h-1zM157 523h1v3h-1zM578 516h1v2h-1zM24 506h1v4h-1zM549 489h1v3h-1zM153 508h1v3h-1zM17 486h1v2h-1zM579 518h1v2h-1zM320 523h1v3h-1zM616 521h1v2h-1zM564 488h1v2h-1zM898 512h1v2h-1zM534 482h1v2h-1zM537 488h1v2h-1zM191 507h1v2h-1zM118 521h1v4h-1zM742 489h1v3h-1zM407 517h1v2h-1zM243 512h1v2h-1zM901 518h1v3h-1zM947 502h1v2h-1zM270 506h1v2h-1zM290 485h1v2h-1zM293 490h1v2h-1zM908 533h1v2h-1zM23 503h1v3h-1zM225 494h1v2h-1zM494 487h1v2h-1zM402 507h1v2h-1zM699 488h1v2h-1zM942 493h1v2h-1zM547 494h1v2h-1zM68 495h1v2h-1zM454 526h1v2h-1zM838 501h1v2h-1zM546 496h1v2h-1zM401 505h1v2h-1zM766 499h1v2h-1zM845 517h1v2h-1zM67 493h1v2h-1zM488 504h1v2h-1zM237 513h1v2h-1zM135 483h1v2h-1zM393 491h1v2h-1zM697 493h1v2h-1zM582 524h1v2h-1zM658 519h1v2h-1zM545 498h1v2h-1zM308 527h1v2h-1zM206 515h1v2h-1zM229 494h1v2h-1zM696 495h1v2h-1zM134 481h1v2h-1zM540 494h1v2h-1zM844 515h1v2h-1zM30 526h1v2h-1zM954 502h1v2h-1zM692 502h1v2h-1zM16 484h1v2h-1zM410 523h1v2h-1zM414 530h1v1h-1zM418 530h2v1h-2zM437 530h1v1h-1zM451 530h1v1h-1zM610 530h1v1h-1zM665 530h1v1h-1zM673 530h1v1h-1zM792 530h1v1h-1zM814 530h1v1h-1zM94 495h2v1h-2zM350 495h1v1h-1zM365 495h2v1h-2zM370 495h1v1h-1zM734 495h2v1h-2zM738 495h1v1h-1zM831 495h3v1h-3zM960 495h1v1h-1zM316 534h1v1h-1zM443 534h3v1h-3zM669 534h1v1h-1zM5 483h1v1h-1zM15 483h1v1h-1zM508 483h3v1h-3zM514 483h2v1h-2zM561 483h1v1h-1zM719 483h4v1h-4zM381 479h2v1h-2zM520 479h1v1h-1zM531 479h1v1h-1zM556 479h2v1h-2zM704 479h1v1h-1zM714 479h1v1h-1zM424 525h1v1h-1zM427 525h7v1h-7zM455 525h1v1h-1zM637 525h1v1h-1zM646 525h1v1h-1zM677 525h1v1h-1zM849 525h5v1h-5zM434 526h1v1h-1zM583 526h1v1h-1zM613 526h1v1h-1zM638 526h1v1h-1zM644 526h2v1h-2zM676 526h1v1h-1zM522 477h2v1h-2zM527 477h3v1h-3zM706 477h1v1h-1zM711 477h2v1h-2zM101 499h1v1h-1zM251 499h1v1h-1zM256 499h2v1h-2zM544 499h1v1h-1zM190 509h1v1h-1zM245 509h1v1h-1zM263 509h2v1h-2zM266 509h2v1h-2zM688 509h1v1h-1zM238 515h2v1h-2zM478 515h2v1h-2zM622 515h2v1h-2zM627 515h3v1h-3zM861 515h1v1h-1zM9 480h5v1h-5zM130 480h4v1h-4zM498 480h5v1h-5zM519 480h1v1h-1zM532 480h1v1h-1zM554 480h2v1h-2zM558 480h1v1h-1zM715 480h1v1h-1zM262 508h1v1h-1zM268 508h2v1h-2zM689 508h1v1h-1zM868 508h1v1h-1zM90 493h2v1h-2zM146 493h1v1h-1zM353 493h2v1h-2zM362 493h1v1h-1zM373 493h1v1h-1zM415 531h3v1h-3zM438 531h1v1h-1zM450 531h1v1h-1zM609 531h1v1h-1zM666 531h1v1h-1zM672 531h1v1h-1zM793 531h2v1h-2zM799 531h15v1h-15zM37 537h2v1h-2zM163 537h1v1h-1zM177 537h1v1h-1zM591 537h1v1h-1zM603 537h2v1h-2zM910 537h2v1h-2zM469 520h5v1h-5zM617 520h1v1h-1zM633 520h1v1h-1zM650 520h1v1h-1zM165 540h2v1h-2zM171 540h3v1h-3zM595 540h4v1h-4zM201 507h1v1h-1zM869 507h1v1h-1zM881 507h1v1h-1zM81 500h1v1h-1zM250 500h1v1h-1zM274 500h1v1h-1zM329 500h2v1h-2zM346 500h1v1h-1zM7 481h2v1h-2zM387 481h1v1h-1zM503 481h3v1h-3zM518 481h1v1h-1zM533 481h1v1h-1zM559 481h1v1h-1zM716 481h1v1h-1zM33 532h1v1h-1zM439 532h2v1h-2zM448 532h2v1h-2zM587 532h1v1h-1zM608 532h1v1h-1zM667 532h1v1h-1zM671 532h1v1h-1zM795 532h4v1h-4zM114 529h1v1h-1zM420 529h2v1h-2zM436 529h1v1h-1zM452 529h1v1h-1zM585 529h1v1h-1zM674 529h1v1h-1zM791 529h1v1h-1zM815 529h1v1h-1zM240 516h2v1h-2zM477 516h1v1h-1zM621 516h1v1h-1zM630 516h1v1h-1zM137 487h1v1h-1zM283 487h1v1h-1zM291 487h1v1h-1zM167 541h4v1h-4zM285 485h2v1h-2zM726 485h2v1h-2zM936 485h1v1h-1zM461 517h5v1h-5zM476 517h1v1h-1zM620 517h1v1h-1zM653 517h2v1h-2zM682 517h1v1h-1zM34 533h1v1h-1zM311 533h1v1h-1zM441 533h2v1h-2zM446 533h2v1h-2zM668 533h1v1h-1zM670 533h1v1h-1zM39 538h4v1h-4zM175 538h2v1h-2zM592 538h1v1h-1zM602 538h1v1h-1zM912 538h6v1h-6zM866 511h1v1h-1zM888 511h3v1h-3zM895 511h3v1h-3zM196 503h2v1h-2zM335 503h2v1h-2zM339 503h3v1h-3zM399 503h1v1h-1zM774 503h1v1h-1zM872 503h1v1h-1zM875 503h3v1h-3zM287 484h3v1h-3zM389 484h1v1h-1zM511 484h3v1h-3zM723 484h3v1h-3zM937 484h1v1h-1zM140 489h2v1h-2zM281 489h1v1h-1zM211 523h3v1h-3zM615 523h1v1h-1zM855 523h1v1h-1zM116 527h1v1h-1zM612 527h1v1h-1zM639 527h2v1h-2zM642 527h2v1h-2zM663 527h1v1h-1zM314 535h2v1h-2zM589 535h1v1h-1zM606 535h1v1h-1zM919 535h1v1h-1zM43 539h3v1h-3zM174 539h1v1h-1zM593 539h2v1h-2zM599 539h3v1h-3zM458 521h1v1h-1zM634 521h1v1h-1zM649 521h1v1h-1zM659 521h1v1h-1zM857 521h1v1h-1zM96 496h2v1h-2zM148 496h1v1h-1zM277 496h1v1h-1zM349 496h1v1h-1zM367 496h3v1h-3zM736 496h2v1h-2zM830 496h1v1h-1zM834 496h1v1h-1zM959 496h1v1h-1zM482 513h2v1h-2zM685 513h1v1h-1zM863 513h2v1h-2zM885 513h1v1h-1zM115 528h1v1h-1zM422 528h1v1h-1zM453 528h1v1h-1zM641 528h1v1h-1zM790 528h1v1h-1zM816 528h1v1h-1zM143 491h2v1h-2zM566 491h1v1h-1zM6 482h1v1h-1zM379 482h1v1h-1zM506 482h2v1h-2zM516 482h2v1h-2zM560 482h1v1h-1zM702 482h1v1h-1zM717 482h2v1h-2zM751 474h3v1h-3zM524 476h3v1h-3zM707 476h2v1h-2zM710 476h1v1h-1zM75 505h3v1h-3zM193 505h1v1h-1zM199 505h1v1h-1zM769 505h2v1h-2zM780 505h1v1h-1zM879 505h1v1h-1zM949 505h2v1h-2zM86 492h4v1h-4zM145 492h1v1h-1zM355 492h7v1h-7zM334 502h1v1h-1zM342 502h2v1h-2zM398 502h1v1h-1zM775 502h2v1h-2zM778 502h1v1h-1zM873 502h2v1h-2zM78 504h1v1h-1zM194 504h2v1h-2zM198 504h1v1h-1zM337 504h2v1h-2zM400 504h1v1h-1zM771 504h3v1h-3zM878 504h1v1h-1zM948 504h1v1h-1zM951 504h3v1h-3zM74 506h1v1h-1zM192 506h1v1h-1zM200 506h1v1h-1zM870 506h1v1h-1zM880 506h1v1h-1zM80 501h1v1h-1zM273 501h1v1h-1zM331 501h3v1h-3zM344 501h2v1h-2zM693 501h1v1h-1zM777 501h1v1h-1zM946 501h1v1h-1zM955 501h1v1h-1zM383 478h3v1h-3zM521 478h1v1h-1zM530 478h1v1h-1zM705 478h1v1h-1zM713 478h1v1h-1zM756 478h1v1h-1zM92 494h2v1h-2zM226 494h3v1h-3zM351 494h2v1h-2zM363 494h2v1h-2zM371 494h2v1h-2zM568 494h1v1h-1zM739 494h2v1h-2zM961 494h1v1h-1zM36 536h1v1h-1zM47 536h1v1h-1zM313 536h1v1h-1zM590 536h1v1h-1zM605 536h1v1h-1zM99 498h2v1h-2zM252 498h1v1h-1zM254 498h2v1h-2zM542 498h2v1h-2zM836 498h1v1h-1zM957 498h1v1h-1zM425 524h2v1h-2zM636 524h1v1h-1zM661 524h1v1h-1zM854 524h1v1h-1zM480 514h2v1h-2zM624 514h3v1h-3zM684 514h1v1h-1zM862 514h1v1h-1zM467 519h2v1h-2zM474 519h1v1h-1zM618 519h1v1h-1zM632 519h1v1h-1zM651 519h1v1h-1zM62 490h4v1h-4zM142 490h1v1h-1zM565 490h1v1h-1zM98 497h1v1h-1zM253 497h1v1h-1zM276 497h1v1h-1zM348 497h1v1h-1zM835 497h1v1h-1zM958 497h1v1h-1zM138 488h2v1h-2zM282 488h1v1h-1zM934 488h1v1h-1zM203 510h1v1h-1zM265 510h1v1h-1zM883 510h1v1h-1zM891 510h4v1h-4zM460 518h1v1h-1zM466 518h1v1h-1zM475 518h1v1h-1zM619 518h1v1h-1zM652 518h1v1h-1zM655 518h3v1h-3zM681 518h1v1h-1zM859 518h1v1h-1zM484 512h1v1h-1zM686 512h1v1h-1zM865 512h1v1h-1zM886 512h2v1h-2zM210 522h1v1h-1zM457 522h1v1h-1zM648 522h1v1h-1zM856 522h1v1h-1zM284 486h1v1h-1zM728 486h2v1h-2zM709 475h1v1h-1zM749 475h2v1h-2zM754 475h1v1h-1z"/><g shape-rendering="crispEdges" fill="#000"><rect x="4" y="4" width="1235" height="1"/><rect x="4" y="4" width="1" height="461"/><rect x="1238" y="4" width="1" height="461"/><rect x="4" y="464" width="1235" height="1"/><rect x="4" y="466" width="1235" height="1"/><rect x="4" y="466" width="1" height="79"/><rect x="1238" y="466" width="1" height="79"/><rect x="4" y="544" width="1235" height="1"/><rect x="1239" y="28" width="2" height="1"/><rect x="1239" y="61" width="2" height="1"/><rect x="1239" y="94" width="2" height="1"/><rect x="1239" y="127" width="2" height="1"/><rect x="1239" y="161" width="2" height="1"/><rect x="1239" y="194" width="2" height="1"/><rect x="1239" y="227" width="2" height="1"/><rect x="1239" y="260" width="2" height="1"/><rect x="1239" y="294" width="2" height="1"/><rect x="1239" y="327" width="2" height="1"/><rect x="1239" y="360" width="2" height="1"/><rect x="1239" y="393" width="2" height="1"/><rect x="1239" y="427" width="2" height="1"/><rect x="1239" y="460" width="2" height="1"/><rect x="1239" y="468" width="2" height="1"/><rect x="1239" y="543" width="2" height="1"/><rect x="5" y="545" width="1" height="3"/><rect x="69" y="545" width="1" height="3"/><rect x="133" y="545" width="1" height="3"/><rect x="197" y="545" width="1" height="3"/><rect x="261" y="545" width="1" height="3"/><rect x="325" y="545" width="1" height="3"/><rect x="389" y="545" width="1" height="3"/><rect x="453" y="545" width="1" height="3"/><rect x="517" y="545" width="1" height="3"/><rect x="581" y="545" width="1" height="3"/><rect x="645" y="545" width="1" height="3"/><rect x="709" y="545" width="1" height="3"/><rect x="773" y="545" width="1" height="3"/><rect x="837" y="545" width="1" height="3"/><rect x="901" y="545" width="1" height="3"/><path d="M8 11h8l-4 4.5z"/></g></svg><div class="wm1">economies</div><div style="position:absolute;left:298px;top:354.8px;width:3.2px;height:4px;background:#dcdcdc"></div><div class="wm1b">com</div><div class="wm2" style="left:88.5px;font-weight:normal;color:#e0e1e1;transform:scaleX(0.9);transform-origin:0 0">F</div><div class="wm2" style="left:110.8px;font-weight:normal;color:#eaedeb;transform:scaleX(0.93);transform-origin:0 0">X</div><div class="wm2" style="left:135.7px;font-weight:bold;color:#d9dcdc;transform:scaleX(1.2);transform-origin:0 0">N</div><div class="wm2" style="left:168.9px;font-weight:normal;color:#e1e1e1;transform:scaleX(0.9);transform-origin:0 0">ews</div><div class="wm2" style="left:236.0px;font-weight:bold;color:#dcdddd;transform:scaleX(0.98);transform-origin:0 0">T</div><div class="wm2" style="left:260.4px;font-weight:normal;color:#e1e1e1;transform:scaleX(0.98);transform-origin:0 0">oday</div><div class="t" style="left:20.8px;top:8.6px;word-spacing:0.5px"><span style="letter-spacing:-0.1px">#C-BRENT,H4</span>&nbsp;&nbsp;60.68 60.78 60.63 60.70</div><div class="t" style="left:9.3px;top:471.6px">Sto(5,3,3) 67.3913 65.8297</div><div class="t p" style="top:24.6px">70.70</div><div class="t p" style="top:57.6px">69.80</div><div class="t p" style="top:90.6px">68.90</div><div class="t p" style="top:123.6px">68.00</div><div class="t p" style="top:157.6px">67.10</div><div class="t p" style="top:190.6px">66.20</div><div class="t p" style="top:223.6px">65.30</div><div class="t p" style="top:256.6px">64.40</div><div class="t p" style="top:290.6px">63.50</div><div class="t p" style="top:323.6px">62.60</div><div class="t p" style="top:356.6px">61.70</div><div class="t p" style="top:389.6px">60.80</div><div class="t p" style="top:423.6px">59.90</div><div class="t p" style="top:456.6px">59.00</div><div class="t" style="left:1242.3px;top:469.6px">100</div><div class="t" style="left:1241.2px;top:479.6px">80</div><div class="t" style="left:1241.2px;top:524.6px">20</div><div class="t" style="left:1242.3px;top:533.6px">0</div><div class="bx" style="top:368px;background:#dc143c"></div><div class="t p w" style="top:369.6px">61.32</div><div class="bx" style="top:392px;background:#000"></div><div class="t p w" style="top:393.6px">60.70</div><div class="bx" style="top:438px;background:#3cb371"></div><div class="t p w" style="top:439.6px">59.42</div><div class="t" style="left:3.9px;top:549.6px;letter-spacing:-0.45px;word-spacing:1.4px">25 Aug 2025</div><div class="t" style="left:67.9px;top:549.6px;letter-spacing:-0.45px;word-spacing:1.4px">28 Aug 08:00</div><div class="t" style="left:131.9px;top:549.6px;letter-spacing:-0.45px;word-spacing:1.4px">2 Sep 16:00</div><div class="t" style="left:195.9px;top:549.6px;letter-spacing:-0.45px;word-spacing:1.4px">5 Sep 08:00</div><div class="t" style="left:259.9px;top:549.6px;letter-spacing:-0.45px;word-spacing:1.4px">10 Sep 00:00</div><div class="t" style="left:323.9px;top:549.6px;letter-spacing:-0.45px;word-spacing:1.4px">12 Sep 16:00</div><div class="t" style="left:387.9px;top:549.6px;letter-spacing:-0.45px;word-spacing:1.4px">17 Sep 08:00</div><div class="t" style="left:451.9px;top:549.6px;letter-spacing:-0.45px;word-spacing:1.4px">22 Sep 00:00</div><div class="t" style="left:515.9px;top:549.6px;letter-spacing:-0.45px;word-spacing:1.4px">24 Sep 16:00</div><div class="t" style="left:579.9px;top:549.6px;letter-spacing:-0.45px;word-spacing:1.4px">29 Sep 08:00</div><div class="t" style="left:643.9px;top:549.6px;letter-spacing:-0.45px;word-spacing:1.4px">2 Oct 00:00</div><div class="t" style="left:707.9px;top:549.6px;letter-spacing:-0.45px;word-spacing:1.4px">6 Oct 16:00</div><div class="t" style="left:771.9px;top:549.6px;letter-spacing:-0.45px;word-spacing:1.4px">9 Oct 08:00</div><div class="t" style="left:835.9px;top:549.6px;letter-spacing:-0.45px;word-spacing:1.4px">14 Oct 00:00</div><div class="t" style="left:899.9px;top:549.6px;letter-spacing:-0.45px;word-spacing:1.4px">16 Oct 16:00</div></body></html>
